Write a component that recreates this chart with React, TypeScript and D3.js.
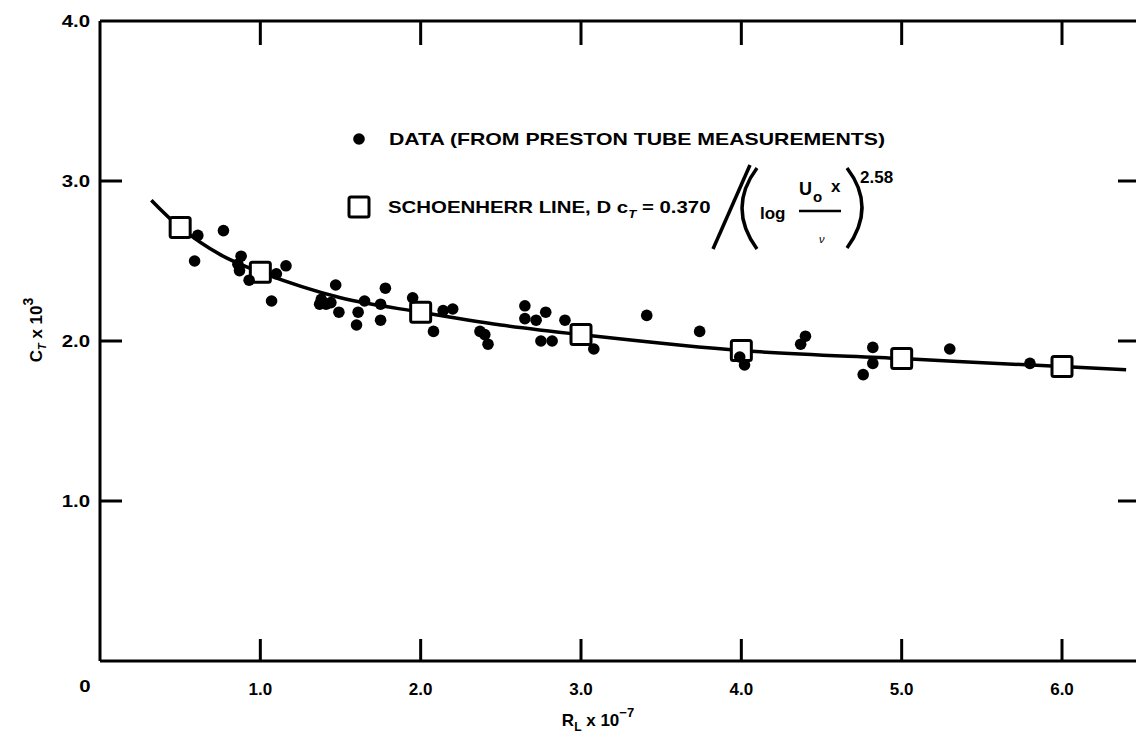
import * as d3 from 'd3'

const width = 1136
const height = 740

// R_L x 10^-7 vs C_T x 10^3
const xTicks = [1, 2, 3, 4, 5, 6]
const xTickLabels = ['1.0', '2.0', '3.0', '4.0', '5.0', '6.0']
const yTicks = [1, 2, 3, 4]
const yTickLabels = ['1.0', '2.0', '3.0', '4.0']

// Preston tube measurements
const dataR = [
  0.61, 0.77, 0.59, 0.88, 0.86, 0.87, 0.93, 1.1, 1.16, 1.07, 1.47, 1.38, 1.41, 1.49, 1.37, 1.44,
  1.78, 1.65, 1.61, 1.6, 1.75, 1.75, 1.95, 2.08, 2.14, 2.2, 2.37, 2.42, 2.4, 2.65, 2.65, 2.72,
  2.78, 2.75, 2.82, 2.9, 3.08, 3.41, 3.74, 3.99, 4.02, 4.37, 4.4, 4.82, 4.82, 4.76, 5.3, 5.8,
]
const dataC = [
  2.66, 2.69, 2.5, 2.53, 2.48, 2.44, 2.38, 2.42, 2.47, 2.25, 2.35, 2.26, 2.23, 2.18, 2.23, 2.24,
  2.33, 2.25, 2.18, 2.1, 2.23, 2.13, 2.27, 2.06, 2.19, 2.2, 2.06, 1.98, 2.04, 2.22, 2.14, 2.13,
  2.18, 2.0, 2.0, 2.13, 1.95, 2.16, 2.06, 1.9, 1.85, 1.98, 2.03, 1.96, 1.86, 1.79, 1.95, 1.86,
]

// Schoenherr line markers and curve
const schoenR = [0.5, 1, 2, 3, 4, 5, 6]
const schoenC = [2.71, 2.43, 2.18, 2.04, 1.94, 1.89, 1.84]
const curveR = [0.32, 0.5, 0.75, 1, 1.5, 2, 2.5, 3, 4, 5, 6, 6.4]
const curveC = [2.88, 2.71, 2.54, 2.43, 2.27, 2.18, 2.1, 2.04, 1.94, 1.89, 1.84, 1.82]

const font = 'Liberation Sans, Arial, Helvetica, sans-serif'

function Wide({ x, y, sx = 1.25, anchor = 'start', size = 17, children }: any) {
  return (
    <g transform={`translate(${x},${y}) scale(${sx},1)`}>
      <text textAnchor={anchor} fontSize={size}>
        {children}
      </text>
    </g>
  )
}

export default function App() {
  const xScale = d3.scaleLinear().domain([0, 6]).range([100, 1062])
  const yScale = d3.scaleLinear().domain([0, 4]).range([661, 21])

  const line = d3
    .line<number>()
    .x((d) => xScale(d))
    .y((_, i) => yScale(curveC[i]))
    .curve(d3.curveCatmullRom)

  const left = xScale(0)
  const bottom = yScale(0)
  const top = yScale(4)
  const right = width

  return (
    <svg
      width={width}
      height={height}
      style={{ position: 'absolute', left: 0, top: 0, background: '#fff' }}
      fontFamily={font}
      fontWeight="bold"
    >
      {/* frame */}
      <g stroke="#000" strokeWidth={3} fill="none">
        <line x1={left} x2={left} y1={top} y2={bottom} />
        <line x1={left} x2={right} y1={bottom} y2={bottom} />
        <line x1={left} x2={right} y1={top} y2={top} />
        {xTicks.map((t) => (
          <g key={t}>
            <line x1={xScale(t)} x2={xScale(t)} y1={bottom} y2={bottom - 22} />
            <line x1={xScale(t)} x2={xScale(t)} y1={top} y2={top + 24} />
          </g>
        ))}
        {yTicks.slice(0, 3).map((t) => (
          <g key={t}>
            <line x1={left} x2={left + 22} y1={yScale(t)} y2={yScale(t)} />
            <line x1={right - 18} x2={right} y1={yScale(t)} y2={yScale(t)} />
          </g>
        ))}
      </g>

      {/* tick labels */}
      {yTicks.map((t, i) => (
        <Wide key={t} x={90} y={yScale(t) + 6} anchor="end" sx={1.2}>
          {yTickLabels[i]}
        </Wide>
      ))}
      <Wide x={85} y={bottom + 31} anchor="middle" sx={1.2}>
        0
      </Wide>
      {xTicks.map((t, i) => (
        <Wide key={t} x={xScale(t)} y={bottom + 34} anchor="middle" sx={1}>
          {xTickLabels[i]}
        </Wide>
      ))}

      {/* axis titles */}
      <g transform={`translate(42,330) rotate(-90)`}>
        <text textAnchor="middle" fontSize={17}>
          C<tspan dy={4} fontSize={11} fontStyle="italic">T</tspan>
          <tspan dy={-4}> x 10</tspan>
          <tspan dy={-9} fontSize={14}>3</tspan>
        </text>
      </g>
      <text x={598} y={726} textAnchor="middle" fontSize={17}>
        R<tspan dy={5} fontSize={12}>L</tspan>
        <tspan dy={-5}> x 10</tspan>
        <tspan dy={-9} fontSize={13}>−7</tspan>
      </text>

      {/* Schoenherr curve */}
      <path d={line(curveR) ?? ''} fill="none" stroke="#000" strokeWidth={3.5} />
      {schoenR.map((r, i) => (
        <rect
          key={r}
          x={xScale(r) - 10}
          y={yScale(schoenC[i]) - 10}
          width={20}
          height={20}
          rx={2}
          fill="#fff"
          stroke="#000"
          strokeWidth={3}
        />
      ))}

      {/* data */}
      {dataR.map((r, i) => (
        <circle key={i} cx={xScale(r)} cy={yScale(dataC[i])} r={5.8} fill="#000" />
      ))}

      {/* legend */}
      <circle cx={359} cy={139} r={5.8} fill="#000" />
      <Wide x={389} y={145}>DATA (FROM PRESTON TUBE MEASUREMENTS)</Wide>
      <rect x={349} y={197} width={20} height={20} rx={2} fill="#fff" stroke="#000" strokeWidth={3} />
      <Wide x={388} y={213} sx={1.2}>
        SCHOENHERR LINE, D c<tspan dy={5} fontSize={11} fontStyle="italic">T</tspan>
        <tspan dy={-5}> = 0.370</tspan>
      </Wide>
      <g stroke="#000" fill="none" strokeWidth={3.5}>
        <line x1={713} y1={249} x2={750} y2={165} />
        <path d="M 757 168 Q 727 208 757 249" />
        <path d="M 847 168 Q 877 207 847 248" />
        <line x1={799} x2={841} y1={211} y2={211} strokeWidth={2.5} />
      </g>
      <text x={760} y={219} fontSize={17}>log</text>
      <text x={799} y={195} fontSize={18}>U</text>
      <text x={813} y={202} fontSize={15}>o</text>
      <text x={831} y={192} fontSize={17}>x</text>
      <text x={819} y={243} fontSize={11} fontStyle="italic" fontWeight="normal">ν</text>
      <text x={860} y={183} fontSize={17}>2.58</text>
    </svg>
  )
}
